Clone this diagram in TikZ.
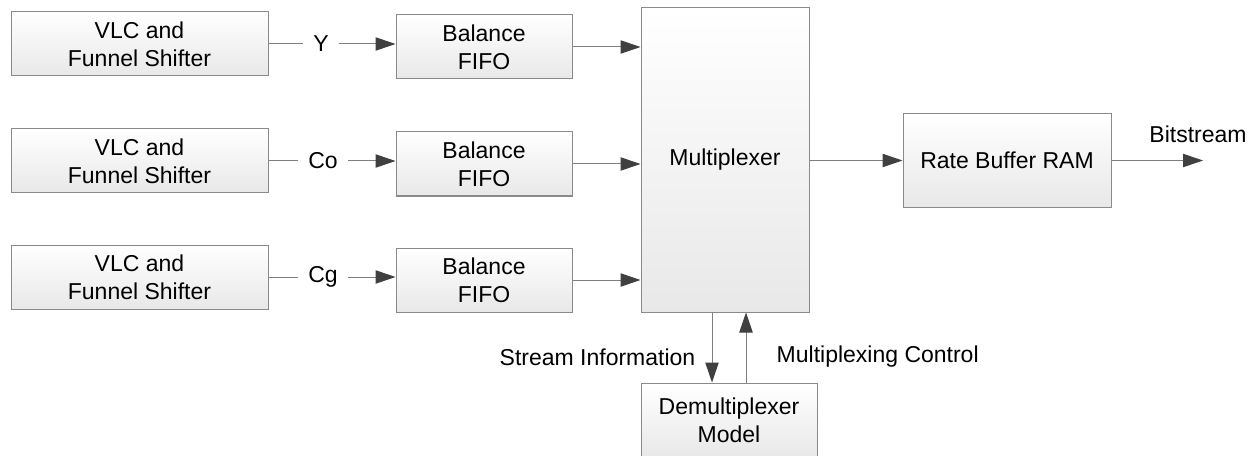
\documentclass[tikz,border=0pt]{standalone}
\usepackage{fontspec}
\setmainfont{Liberation Sans}
\usetikzlibrary{arrows.meta,positioning}
\definecolor{BoxEdge}{HTML}{8A8A8A}
\definecolor{LineGray}{HTML}{7F7F7F}
\definecolor{TipGray}{HTML}{404040}

\begin{document}
\begin{tikzpicture}[
		x=0.75pt, y=-0.75pt,
		every node/.style={font=\fontsize{17.25}{21}\selectfont},
		% boxes with a light top-down gradient
		block/.style={draw=BoxEdge, line width=0.75pt, top color=white, bottom color=black!9, align=center, inner sep=0pt},
		vlcbox/.style={block, minimum width=192.75pt, minimum height=48pt},
		fifobox/.style={block, minimum width=132pt, minimum height=48pt},
		chanlabel/.style={inner xsep=7.5pt},
		flow/.style={draw=LineGray, line width=0.75pt},
		arrow/.style={flow, -{Triangle[length=15pt, width=10pt, color=TipGray]}}
		]
		\useasboundingbox (0,0) rectangle (1256,456);
		% encoder side
		\node[vlcbox] (VLCY) at (139.5,44) {VLC and\\Funnel Shifter};
		\node[vlcbox] (VLCCo) at (139.5,161) {VLC and\\Funnel Shifter};
		\node[vlcbox] (VLCCg) at (139.5,277) {VLC and\\Funnel Shifter};
		\node[chanlabel] (LabelY) at (321,44) {Y};
		\node[chanlabel] (LabelCo) at (323,161) {Co};
		\node[chanlabel] (LabelCg) at (323,277) {Cg};
		\node[fifobox] (FIFOY) at (484,47) {Balance\\FIFO};
		\node[fifobox] (FIFOCo) at (484,164) {Balance\\FIFO};
		\node[fifobox] (FIFOCg) at (484,280) {Balance\\FIFO};
		\node[block, minimum width=126pt, minimum height=228pt] (Mux) at (725,160) {Multiplexer};
		\node[block, minimum width=156pt, minimum height=69.75pt] (RateBuf) at (1007,160.5) {Rate Buffer RAM};
		\node[block, minimum width=132pt, minimum height=55.5pt] (Demux) at (729,420) {Demultiplexer\\Model};
		\coordinate (StreamOut) at (1203,160.5);
		\node (BitLabel) at (1198,134) {Bitstream};
		\node[anchor=east] (InfoLabel) at (700,357) {Stream Information};
		\node[anchor=west] (CtrlLabel) at (772,357) {Multiplexing Control};
		% channels
		\draw[flow] (VLCY.east) -- (LabelY.west);
		\draw[flow] (VLCCo.east) -- (LabelCo.west);
		\draw[flow] (VLCCg.east) -- (LabelCg.west);
		\draw[arrow] (LabelY.east) -- (LabelY.east -| FIFOY.west);
		\draw[arrow] (LabelCo.east) -- (LabelCo.east -| FIFOCo.west);
		\draw[arrow] (LabelCg.east) -- (LabelCg.east -| FIFOCg.west);
		\draw[arrow] (FIFOY.east) -- (FIFOY.east -| Mux.west);
		\draw[arrow] (FIFOCo.east) -- (FIFOCo.east -| Mux.west);
		\draw[arrow] (FIFOCg.east) -- (FIFOCg.east -| Mux.west);
		\draw[arrow] (Mux.east |- RateBuf.west) -- (RateBuf.west);
		\draw[arrow] (RateBuf.east) -- (StreamOut);
		% feedback to the model
		\draw[arrow] ([xshift=-9.75pt]Mux.south) -- ([xshift=-9.75pt]Mux.south |- Demux.north);
		\draw[arrow] ([xshift=15.75pt]Mux.south |- Demux.north) -- ([xshift=15.75pt]Mux.south);
\end{tikzpicture}
\end{document}
